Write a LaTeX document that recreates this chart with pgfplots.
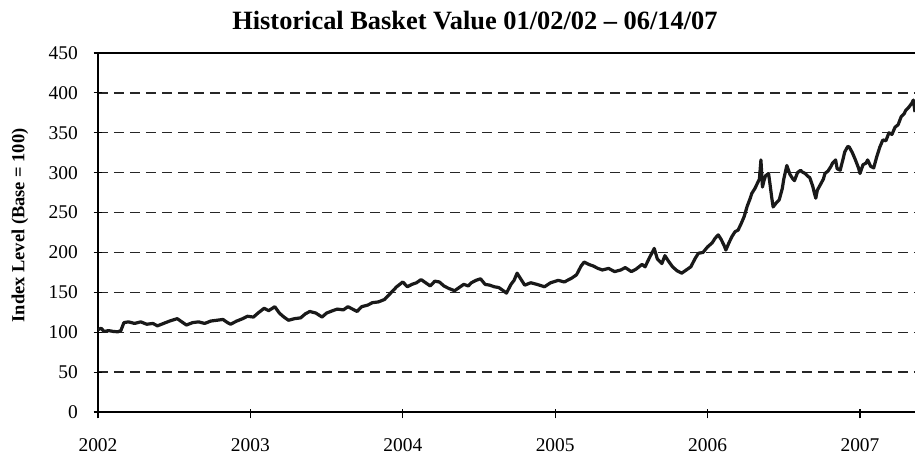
\documentclass[border=0pt]{standalone}
\usepackage{fontspec}
\setmainfont{Liberation Serif}
\usepackage{pgfplots}
\pgfplotsset{compat=1.18}

\begin{document}
\begin{tikzpicture}
\begin{axis}[
  scale only axis,
  width=817bp, height=359bp,
  xmin=2002, xmax=2007.361,
  ymin=0, ymax=450,
  axis lines*=left,
  axis line style={line width=1.3bp, black},
  xtick={2002,2003,2004,2005,2006,2007},
  ytick={0,50,...,450},
  tick align=center,
  major tick length=9bp,
  tick style={line width=1.2bp, black},
  x tick style={yshift=-2bp},
  ymajorgrids,
  major grid style={dash pattern=on 10bp off 6bp, line width=1.3bp, black!85},
  ticklabel style={font=\fontsize{19.5}{22}\selectfont},
  /pgf/number format/.cd, 1000 sep={}, assume math mode=true,
  /pgfplots/.cd,
  yticklabel style={anchor=east, inner sep=0pt, xshift=-15.5bp},
  xticklabel style={anchor=north, inner sep=0pt, yshift=-22bp},
  title={Historical Basket Value 01/02/02 -- 06/14/07},
  title style={font=\bfseries\fontsize{26.5}{30}\selectfont, at={(rel axis cs:0.4614,1)}, anchor=base, yshift=18bp},
  ylabel={Index Level (Base = 100)},
  ylabel style={font=\bfseries\fontsize{18.5}{20}\selectfont, at={(axis description cs:-0.0955,0.52)}, anchor=center},
]

% basket index
\addplot[black!90, line width=3.2bp, line join=round] coordinates {
  (2002.00,103) (2002.02,105) (2002.04,101) (2002.07,102) (2002.10,101)
  (2002.13,100.5) (2002.15,102) (2002.17,112) (2002.20,113) (2002.24,111)
  (2002.28,113) (2002.32,110) (2002.36,111) (2002.39,108) (2002.43,111)
  (2002.47,114) (2002.52,117) (2002.55,113) (2002.58,109) (2002.62,112)
  (2002.66,113) (2002.70,111) (2002.74,114) (2002.78,115) (2002.82,116)
  (2002.85,112) (2002.87,110) (2002.91,114) (2002.95,117) (2002.98,120)
  (2003.02,119) (2003.05,124) (2003.09,130) (2003.12,127) (2003.16,132)
  (2003.19,124) (2003.22,119) (2003.25,115) (2003.29,117) (2003.33,118)
  (2003.36,123) (2003.39,126) (2003.43,124) (2003.47,119) (2003.50,124)
  (2003.54,127) (2003.57,129) (2003.61,128) (2003.64,132) (2003.67,129)
  (2003.70,126) (2003.73,132) (2003.77,134) (2003.80,137) (2003.84,138)
  (2003.88,141) (2003.90,145) (2003.93,151) (2003.96,157) (2004.00,163)
  (2004.03,157) (2004.06,160) (2004.09,162) (2004.12,166) (2004.15,162)
  (2004.18,158) (2004.21,164) (2004.24,163) (2004.27,158) (2004.30,155)
  (2004.34,152) (2004.37,156) (2004.40,160) (2004.43,158) (2004.45,162)
  (2004.48,165) (2004.51,167) (2004.54,160) (2004.57,159) (2004.60,157)
  (2004.63,156) (2004.66,152) (2004.68,149) (2004.71,160) (2004.73,165)
  (2004.75,174) (2004.78,165) (2004.80,159) (2004.84,162) (2004.88,160)
  (2004.93,157) (2004.97,162) (2005.02,165) (2005.06,163) (2005.11,168)
  (2005.14,172) (2005.17,183) (2005.19,188) (2005.22,185) (2005.25,183)
  (2005.28,180) (2005.31,178) (2005.35,180) (2005.39,176) (2005.43,178)
  (2005.46,181) (2005.50,176) (2005.53,179) (2005.57,185) (2005.59,182)
  (2005.62,194) (2005.65,205) (2005.67,192) (2005.70,186) (2005.72,196)
  (2005.74,190) (2005.77,182) (2005.80,177) (2005.83,174) (2005.86,178)
  (2005.89,182) (2005.92,193) (2005.94,199) (2005.97,200) (2006.00,207)
  (2006.03,212) (2006.05,218) (2006.07,222) (2006.09,216) (2006.11,208)
  (2006.12,203) (2006.14,212) (2006.16,220) (2006.18,226) (2006.20,228)
  (2006.22,236) (2006.24,245) (2006.26,258) (2006.28,268) (2006.29,274)
  (2006.31,280) (2006.33,288) (2006.34,292) (2006.35,316) (2006.36,282)
  (2006.37,290) (2006.38,296) (2006.40,299) (2006.41,285) (2006.42,270)
  (2006.43,257) (2006.45,262) (2006.47,266) (2006.49,280) (2006.50,292)
  (2006.52,309) (2006.54,298) (2006.56,292) (2006.57,290) (2006.59,300)
  (2006.61,303) (2006.62,301) (2006.64,299) (2006.66,295) (2006.67,294)
  (2006.69,283) (2006.70,275) (2006.71,268) (2006.72,278) (2006.74,285)
  (2006.76,292) (2006.77,299) (2006.79,302) (2006.81,308) (2006.82,312)
  (2006.84,316) (2006.85,305) (2006.87,303) (2006.89,318) (2006.90,326)
  (2006.92,333) (2006.93,332) (2006.95,325) (2006.97,316) (2006.99,306)
  (2007.00,299) (2007.02,310) (2007.04,312) (2007.05,316) (2007.07,308)
  (2007.09,306) (2007.11,320) (2007.13,332) (2007.15,341) (2007.17,340)
  (2007.19,350) (2007.21,348) (2007.23,357) (2007.25,360) (2007.27,370)
  (2007.29,374) (2007.30,378) (2007.32,382) (2007.34,387) (2007.35,391)
  (2007.361,376)
};

\draw[line width=1.3bp, black] (rel axis cs:0,1) -- (rel axis cs:1,1);
\coordinate (bl) at (rel axis cs:0,0);
\coordinate (tr) at (rel axis cs:1,1);
\end{axis}
\pgfresetboundingbox
\useasboundingbox ([shift={(-98bp,-42bp)}]bl) rectangle ([shift={(0bp,53bp)}]tr);
\end{tikzpicture}
\end{document}
